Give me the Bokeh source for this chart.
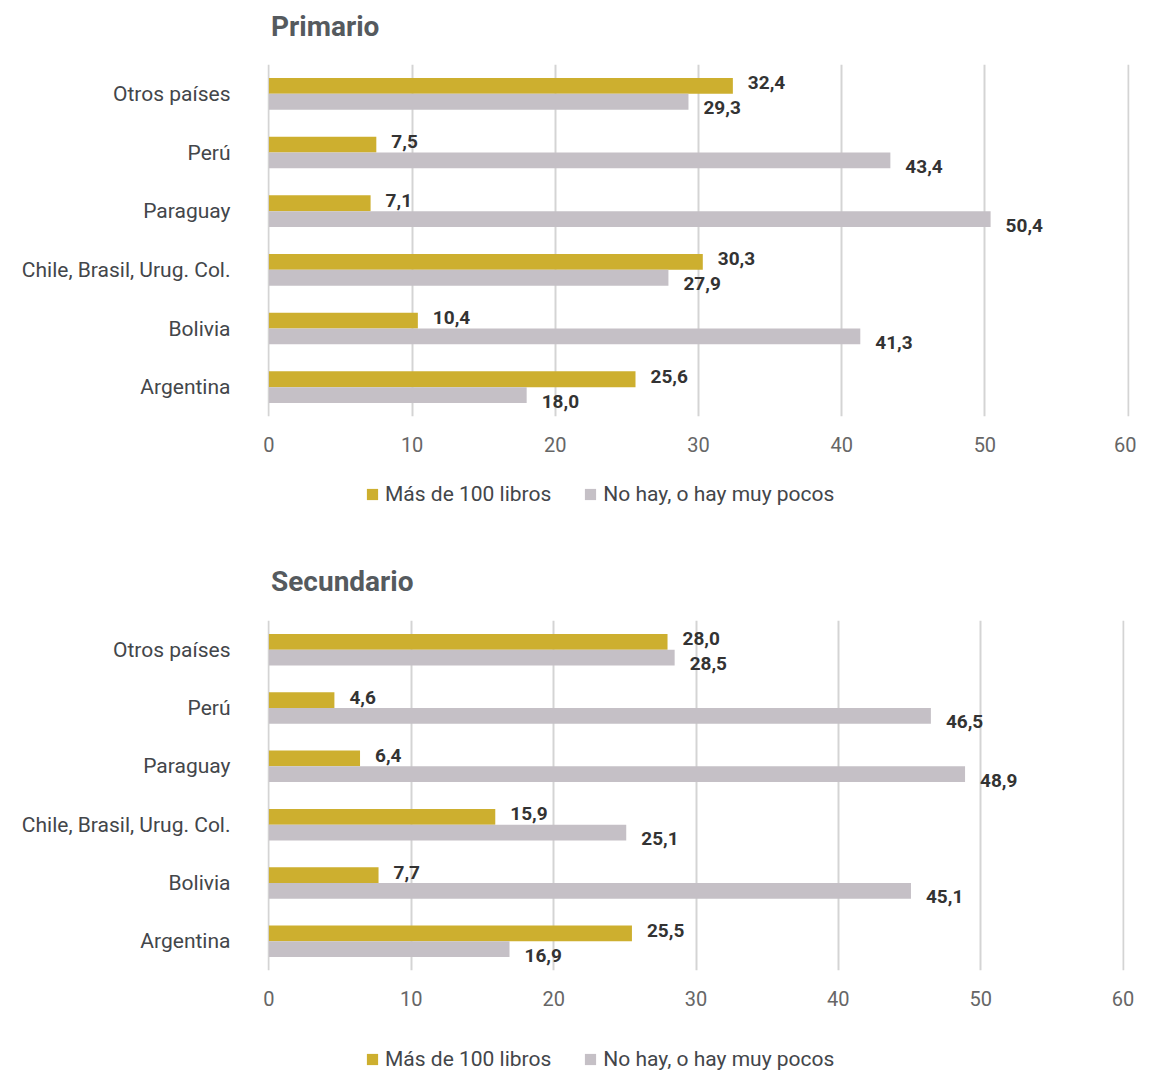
from bokeh.plotting import figure
from bokeh.models import ColumnDataSource, Range1d, FactorRange, LabelSet, Label, Legend, LegendItem
from bokeh.core.properties import value
from bokeh.transform import dodge
from bokeh.layouts import column
from bokeh.embed import file_html
from bokeh.resources import INLINE

categories = ["Argentina", "Bolivia", "Chile, Brasil, Urug. Col.", "Paraguay", "Perú", "Otros países"]
series_names = ["Más de 100 libros", "No hay, o hay muy pocos"]
primario_mas100 = [25.6, 10.4, 30.3, 7.1, 7.5, 32.4]
primario_pocos = [18.0, 41.3, 27.9, 50.4, 43.4, 29.3]
secundario_mas100 = [25.5, 7.7, 15.9, 6.4, 4.6, 28.0]
secundario_pocos = [16.9, 45.1, 25.1, 48.9, 46.5, 28.5]
x_ticks = [0, 10, 20, 30, 40, 50, 60]
titles = ["Primario", "Secundario"]

GOLD = "#CDAF2F"
GREY = "#C5C0C6"
TEXT = "#43464A"
FONT = "Roboto"
WIDTH = 1136


def fmt(v):
    return f"{v:.1f}".replace(".", ",")


def blank(height):
    q = figure(frame_width=WIDTH, frame_height=height, min_border=0,
               x_range=Range1d(0, WIDTH), y_range=Range1d(0, height),
               output_backend="svg", toolbar_location=None)
    q.axis.visible = False
    q.grid.visible = False
    q.outline_line_color = None
    return q


def make_title(text, height, tx, ty):
    q = blank(height)
    q.add_layout(Label(x=tx, y=ty, x_units="screen", y_units="screen", text=text,
                       text_font=FONT, text_font_style="bold", text_font_size="28px",
                       text_color="#555A5E", text_baseline="middle", text_align="left"))
    return q


def make_panel(mas100, pocos, left, fw, fh, top, bottom):
    src = ColumnDataSource(dict(
        cat=categories,
        a=mas100, b=pocos,
        la=[fmt(v) for v in mas100], lb=[fmt(v) for v in pocos],
    ))
    p = figure(
        y_range=FactorRange(factors=categories, range_padding=0),
        x_range=Range1d(-0.1, 60.1),
        frame_width=fw, frame_height=fh,
        min_border_left=left, min_border_right=WIDTH - left - fw,
        min_border_top=top, min_border_bottom=bottom,
        output_backend="svg", toolbar_location=None,
    )
    p.outline_line_color = None
    p.background_fill_color = "white"
    p.border_fill_color = "white"

    p.hbar(y=dodge("cat", 0.135, range=p.y_range), right="a", left=0, height=0.27,
           source=src, fill_color=GOLD, line_color=None)
    p.hbar(y=dodge("cat", -0.135, range=p.y_range), right="b", left=0, height=0.27,
           source=src, fill_color=GREY, line_color=None)

    la = LabelSet(x="a", y=dodge("cat", 0.135, range=p.y_range), text="la", source=src,
                  x_offset=15, y_offset=3, text_baseline="middle",
                  text_font=value(FONT), text_font_style="bold", text_font_size="19px",
                  text_color="#333333")
    lb = LabelSet(x="b", y=dodge("cat", -0.135, range=p.y_range), text="lb", source=src,
                  x_offset=15, y_offset=-6, text_baseline="middle",
                  text_font=value(FONT), text_font_style="bold", text_font_size="19px",
                  text_color="#333333")
    p.add_layout(la)
    p.add_layout(lb)

    p.xaxis.ticker = x_ticks
    p.xaxis.axis_line_color = None
    p.xaxis.major_tick_line_color = None
    p.xaxis.minor_tick_line_color = None
    p.xaxis.major_label_text_font = FONT
    p.xaxis.major_label_text_font_size = "20px"
    p.xaxis.major_label_text_font_style = "normal"
    p.xaxis.major_label_text_color = "#666666"
    p.xaxis.major_label_standoff = 14

    p.yaxis.axis_line_color = None
    p.yaxis.major_tick_line_color = None
    p.yaxis.major_label_text_font = FONT
    p.yaxis.major_label_text_font_size = "21px"
    p.yaxis.major_label_text_color = TEXT
    p.yaxis.major_label_standoff = 31

    p.xgrid.ticker = x_ticks
    p.xgrid.grid_line_color = "#D4D4D4"
    p.xgrid.grid_line_width = 2
    p.ygrid.grid_line_color = None
    return p


def make_legend(height, lx, ly):
    q = blank(height)
    # legend-only renderers: their bars lie outside the visible range
    ra = q.hbar(y=[-50], right=[-40], left=[-50], height=1, fill_color=GOLD, line_color=None)
    rb = q.hbar(y=[-50], right=[-40], left=[-50], height=1, fill_color=GREY, line_color=None)
    legend = Legend(items=[LegendItem(label=series_names[0], renderers=[ra]),
                           LegendItem(label=series_names[1], renderers=[rb])],
                    orientation="horizontal", location=(lx, ly),
                    label_text_font=FONT, label_text_font_size="21px", label_text_color=TEXT,
                    glyph_width=14, glyph_height=14, label_standoff=6, spacing=32,
                    padding=0, margin=0, border_line_color=None, background_fill_alpha=0)
    q.add_layout(legend, "center")
    return q


t1 = make_title(titles[0], 56, 3.5, 30.5)
p1 = make_panel(primario_mas100, primario_pocos,
                left=265, fw=862, fh=352, top=8, bottom=53)
l1 = make_legend(50, 365, 13)
t2 = make_title(titles[1], 93, 3.5, 31.5)
p2 = make_panel(secundario_mas100, secundario_pocos,
                left=267, fw=857, fh=350, top=8, bottom=53)
l2 = make_legend(48, 365, 0)

layout = column(t1, p1, l1, t2, p2, l2, spacing=0)
open("out.html", "w").write(file_html(layout, INLINE))
